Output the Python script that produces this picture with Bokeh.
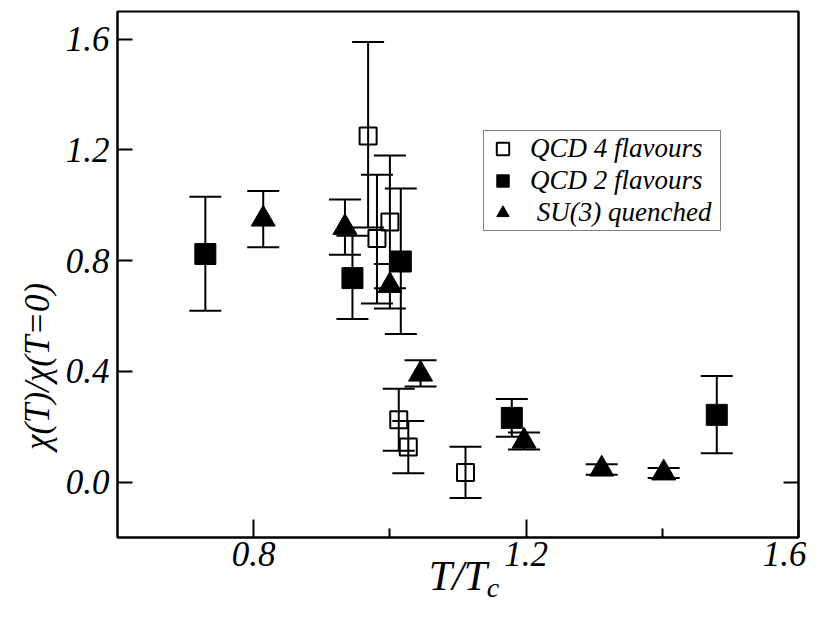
from bokeh.plotting import figure
from bokeh.models import (ColumnDataSource, Whisker, TeeHead, FixedTicker, LinearAxis,
                          Legend, LegendItem, PrintfTickFormatter, Range1d)
from bokeh.embed import file_html
from bokeh.resources import INLINE

# ---- data ----
q4_t = [0.968, 0.981, 1.000, 1.013, 1.027, 1.111]
q4_chi = [1.25, 0.88, 0.94, 0.225, 0.127, 0.035]
q4_lo = [0.92, 0.645, 0.70, 0.113, 0.032, -0.057]
q4_hi = [1.59, 1.11, 1.18, 0.337, 0.221, 0.128]

q2_t = [0.729, 0.945, 1.016, 1.179, 1.480]
q2_chi = [0.824, 0.737, 0.797, 0.232, 0.243]
q2_lo = [0.619, 0.589, 0.535, 0.164, 0.104]
q2_hi = [1.031, 0.89, 1.061, 0.30, 0.383]

su3_t = [0.814, 0.934, 1.000, 1.045, 1.197, 1.311, 1.402]
su3_chi = [0.95, 0.92, 0.71, 0.39, 0.148, 0.047, 0.033]
su3_lo = [0.848, 0.821, 0.627, 0.345, 0.118, 0.027, 0.015]
su3_hi = [1.052, 1.021, 0.788, 0.44, 0.179, 0.065, 0.051]

x_major = [0.8, 1.2, 1.6]
x_minor = [1.0, 1.4]
y_major = [0.0, 0.4, 0.8, 1.2, 1.6]

FONT = "Liberation Serif"
NB = "\u00a0"

labels = ["QCD 4 flavours", "QCD 2 flavours", NB + "SU(3) quenched" + NB]

p = figure(width=806, height=608, output_backend="svg", toolbar_location=None,
           x_range=Range1d(0.6, 1.6), y_range=Range1d(-0.2, 1.7),
           min_border_left=117, min_border_right=8, min_border_top=11, min_border_bottom=71)
p.grid.visible = False
p.outline_line_color = "black"
p.outline_line_width = 2
p.background_fill_color = "white"
p.border_fill_color = "white"

def style_axis(ax):
    ax.axis_line_width = 2
    ax.major_tick_line_width = 2
    ax.minor_tick_line_width = 2
    ax.major_tick_out = 0
    ax.minor_tick_out = 0
    ax.major_label_text_font = FONT
    ax.major_label_text_font_style = "italic"
    ax.major_label_text_color = "black"
    ax.axis_label_text_font = FONT
    ax.axis_label_text_font_style = "italic"
    ax.axis_label_text_color = "black"

for ax in (p.xaxis[0], p.yaxis[0]):
    style_axis(ax)
    ax.major_label_text_font_size = "35px"
    ax.formatter = PrintfTickFormatter(format="%.1f")

xa = p.xaxis[0]
xa.ticker = FixedTicker(ticks=x_major, minor_ticks=x_minor)
xa.major_tick_in = 18
xa.minor_tick_in = 9
xa.major_label_standoff = 4

ya = p.yaxis[0]
ya.ticker = FixedTicker(ticks=y_major, minor_ticks=[])
ya.major_tick_in = 15
ya.major_label_standoff = 8
ya.axis_label = "χ(T)/χ(T=0)" + NB * 21
ya.axis_label_text_font_size = "35px"
ya.axis_label_standoff = 6

right = LinearAxis(ticker=FixedTicker(ticks=[0.0], minor_ticks=[]),
                   major_label_text_font_size="0px", major_tick_in=15, major_tick_out=0,
                   major_tick_line_width=2, axis_line_width=2, major_label_standoff=0)
p.add_layout(right, "right")

# x-axis title "T/T" with subscript "c" (two label-only axes below the tick labels)
def label_axis(text, size, standoff):
    ax = LinearAxis(ticker=FixedTicker(ticks=[], minor_ticks=[]), axis_label=text,
                    axis_line_color=None, major_tick_line_color=None,
                    minor_tick_line_color=None, major_label_text_font_size="0px",
                    major_label_standoff=0, major_tick_in=0, major_tick_out=0,
                    minor_tick_in=0, minor_tick_out=0,
                    axis_label_text_font=FONT, axis_label_text_font_style="italic",
                    axis_label_text_font_size=size, axis_label_text_color="black",
                    axis_label_standoff=standoff)
    p.add_layout(ax, "below")
    return ax

label_axis("T/T", "42px", -16)
label_axis(NB * 10 + "c", "28px", -30)

# error bars
def add_bars(t, lo, hi):
    src = ColumnDataSource(dict(t=t, lo=lo, hi=hi))
    w = Whisker(base="t", lower="lo", upper="hi", source=src, dimension="height",
                line_width=2, line_color="black", level="underlay",
                upper_head=TeeHead(size=32, line_width=2, line_color="black"),
                lower_head=TeeHead(size=32, line_width=2, line_color="black"))
    p.add_layout(w)

add_bars(q4_t, q4_lo, q4_hi)
add_bars(q2_t, q2_lo, q2_hi)
add_bars(su3_t, su3_lo, su3_hi)

r4 = p.scatter(q4_t, q4_chi, marker="square", size=17, fill_color=None,
               line_color="black", line_width=2)
r2 = p.scatter(q2_t, q2_chi, marker="square", size=21, fill_color="black",
               line_color="black", line_width=1)
r3 = p.scatter(su3_t, su3_chi, marker="triangle", size=24, fill_color="black",
               line_color="black", line_width=1)

legend = Legend(items=[LegendItem(label=labels[0], renderers=[r4]),
                       LegendItem(label=labels[1], renderers=[r2]),
                       LegendItem(label=labels[2], renderers=[r3])],
                location=(366, 306), orientation="vertical",
                label_text_font=FONT, label_text_font_style="italic",
                label_text_font_size="27px", label_text_color="black",
                glyph_width=33, glyph_height=31, label_height=31, spacing=1,
                padding=2, margin=0, label_standoff=11,
                border_line_color="black", border_line_width=1,
                background_fill_color="white", background_fill_alpha=1)
p.add_layout(legend, "center")

open("out.html", "w").write(file_html(p, INLINE))
